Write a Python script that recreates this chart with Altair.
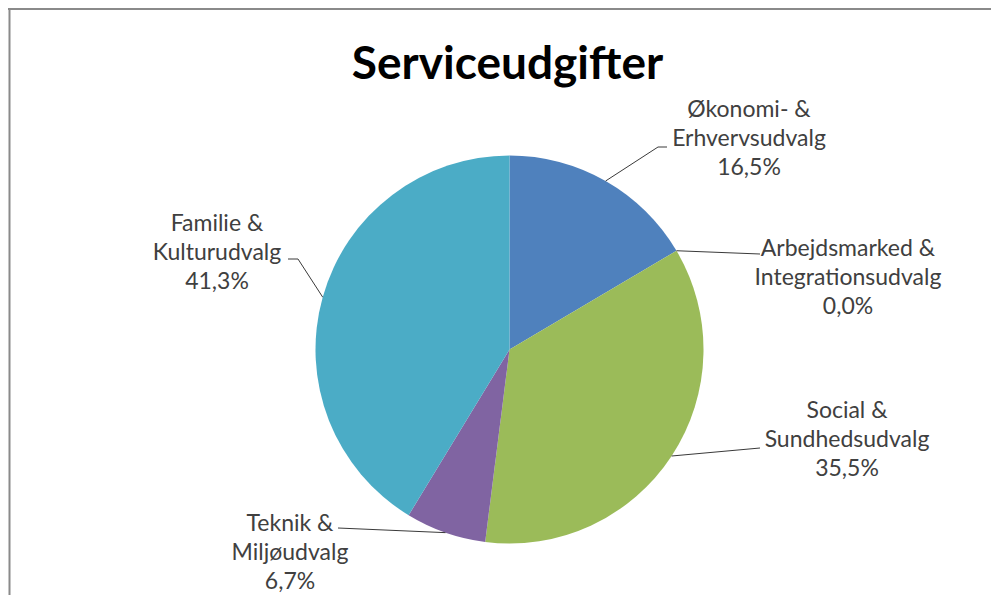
import altair as alt
import pandas as pd
import numpy as np

# ---- data ----
keys = ["okonomi", "arbejdsmarked", "social", "teknik", "familie"]
label_lines = [
    ["Økonomi- &", "Erhvervsudvalg"],
    ["Arbejdsmarked &", "Integrationsudvalg"],
    ["Social &", "Sundhedsudvalg"],
    ["Teknik &", "Miljøudvalg"],
    ["Familie &", "Kulturudvalg"],
]
shares = [16.5, 0.0, 35.5, 6.7, 41.3]
colors = ["#4F81BD", "#C0504D", "#9BBB59", "#8064A2", "#4BACC6"]
title_text = "Serviceudgifter"

# ---- layout ----
W, H = 983, 587
CX, CY = 501.5, 341.5
R = 194
FONT = "Lato"
LINE_H = 29
# offsets (from pie centre) of the first label line's centre
LABEL_OFFSET = [(239.5, -239.5), (338.5, -100.5), (337.5, 61.5), (-219.5, 174.5), (-292.5, -125.5)]
LEADER_PATH = [
    [(148.5, -202.5), (157.5, -202.5)],
    [(250.5, -95.5)],
    [(250.5, 98.5)],
    [(-171.5, 178.5)],
    [(-211.5, -90.5), (-221.5, -90.5)],
]

pie_df = pd.DataFrame({"key": keys, "share": shares, "idx": range(len(keys))})

total = float(sum(shares))
cum = np.cumsum(shares)
start = cum - np.array(shares)
mid = (start + cum) / 2 / total * 2 * np.pi

labels = []
for i, k in enumerate(keys):
    pct = f"{shares[i]:.1f}%".replace(".", ",")
    txt = "\n".join(label_lines[i] + [pct])
    dx, dy = LABEL_OFFSET[i]
    labels.append({"key": k, "px": CX + dx, "py": CY + dy, "label": txt})
label_df = pd.DataFrame(labels)

rows = []
for i, k in enumerate(keys):
    ex = CX + R * np.sin(mid[i])
    ey = CY - R * np.cos(mid[i])
    rows.append({"key": k, "ord": 0, "px": ex, "py": ey})
    for j, (dx, dy) in enumerate(LEADER_PATH[i]):
        rows.append({"key": k, "ord": j + 1, "px": CX + dx, "py": CY + dy})
line_df = pd.DataFrame(rows)

arcs = alt.Chart(pie_df).mark_arc(radius=R).encode(
    theta=alt.Theta("share:Q", stack=True),
    color=alt.Color("key:N", scale=alt.Scale(domain=keys, range=colors), legend=None),
    order=alt.Order("idx:Q"),
    x=alt.value(CX),
    y=alt.value(CY),
)

leaders = alt.Chart(line_df).mark_line(color="#3a3a3a", strokeWidth=1).encode(
    x=alt.X("px:Q", scale=None, axis=None),
    y=alt.Y("py:Q", scale=None, axis=None),
    detail="key:N",
    order=alt.Order("ord:Q"),
)

texts = alt.Chart(label_df).mark_text(
    font=FONT, fontSize=23, lineBreak="\n", lineHeight=LINE_H,
    align="center", baseline="middle", color="#404040",
).encode(
    x=alt.X("px:Q", scale=None, axis=None),
    y=alt.Y("py:Q", scale=None, axis=None),
    text="label:N",
)

blank = alt.Data(values=[{}])
title = alt.Chart(blank).mark_text(
    font=FONT, fontSize=46, fontWeight="bold", color="#000000", baseline="alphabetic", align="center"
).encode(x=alt.value(499.5), y=alt.value(71), text=alt.value(title_text))

border_top = alt.Chart(blank).mark_rule(color="#8a8a8a", strokeWidth=2).encode(
    x=alt.value(0), x2=alt.value(W), y=alt.value(1)
)
border_left = alt.Chart(blank).mark_rule(color="#8a8a8a", strokeWidth=2).encode(
    x=alt.value(1.5), y=alt.value(0), y2=alt.value(H)
)

chart = alt.layer(arcs, leaders, texts, title, border_top, border_left).properties(
    width=W, height=H, padding=0, autosize=alt.AutoSizeParams(type="none")
).configure_view(stroke=None)

chart.save("out.html", embed_options={"renderer": "svg", "actions": False})
